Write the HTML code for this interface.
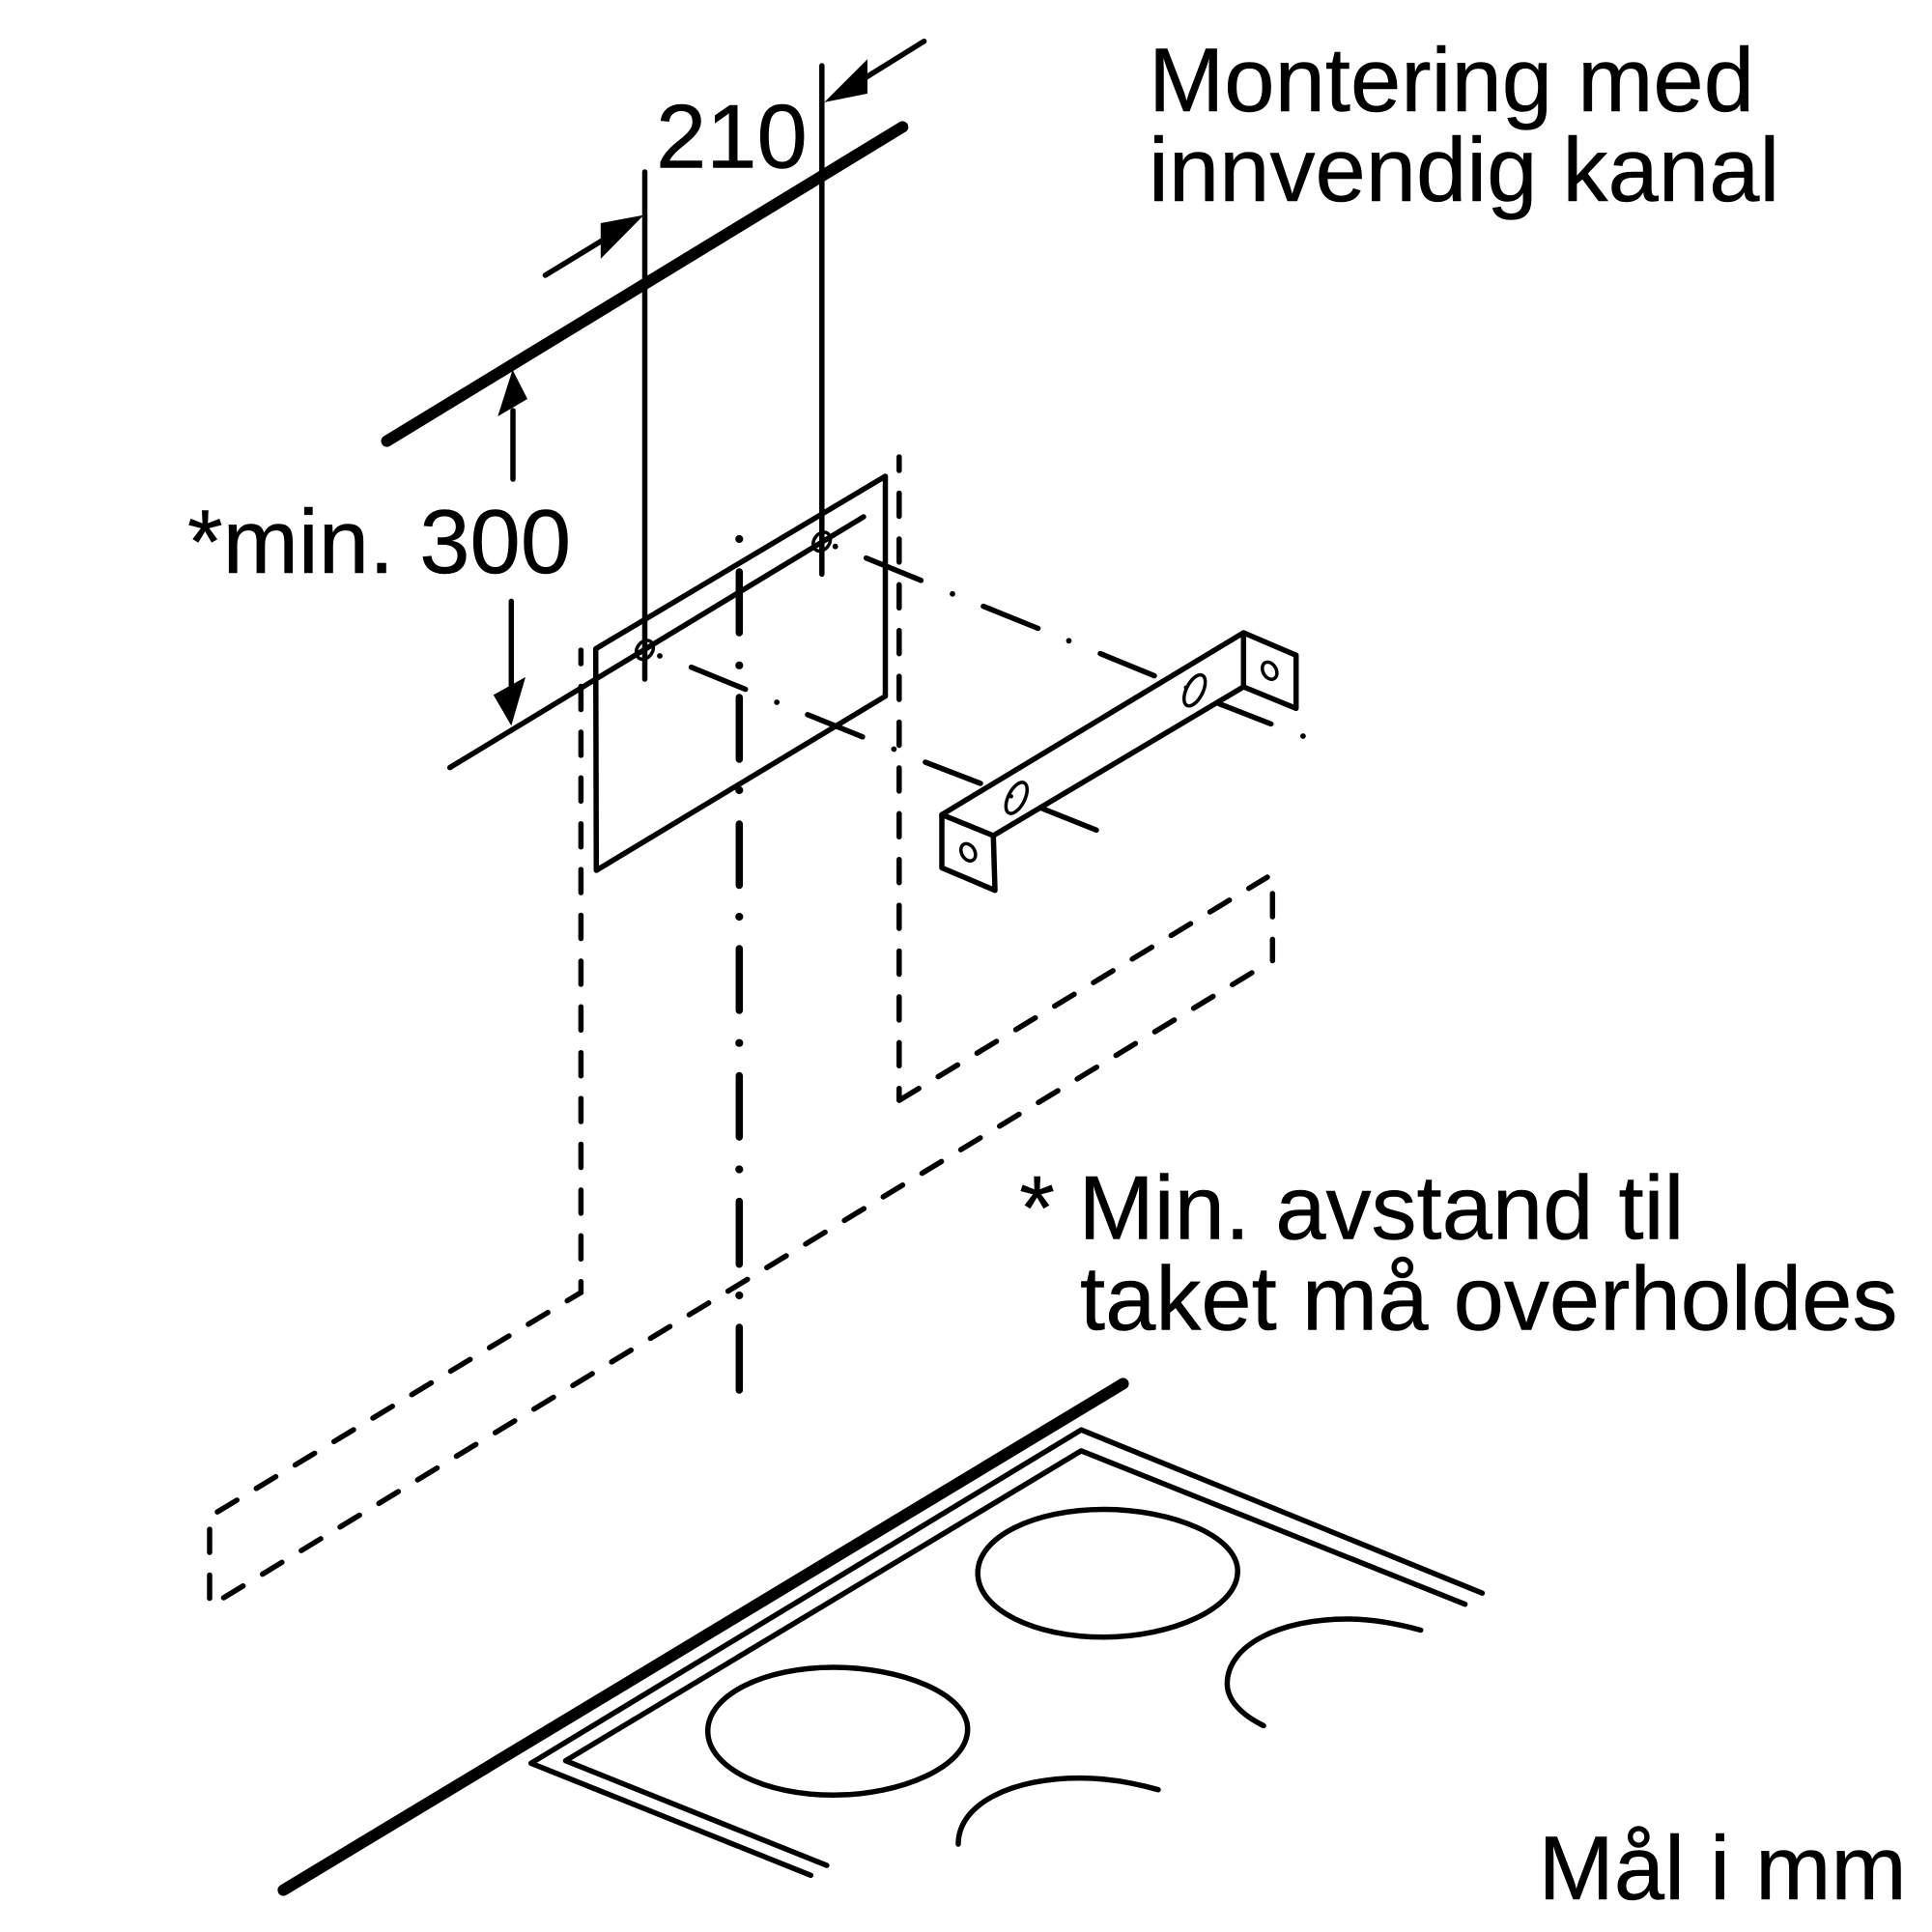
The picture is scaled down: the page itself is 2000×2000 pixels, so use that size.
<!DOCTYPE html>
<html><head><meta charset="utf-8"><style>
html,body{margin:0;padding:0;background:#fff}
svg{display:block}
text{font-family:"Liberation Sans",sans-serif;font-size:94px;fill:#000;stroke:#000;stroke-width:.5}
.t{stroke:#000;stroke-width:5.5;fill:none;stroke-linecap:round;stroke-linejoin:round}
.d{stroke:#000;stroke-width:5.5;fill:none;stroke-linecap:round;stroke-dasharray:23.6 23.4}
.v{stroke:#000;stroke-width:5.5;fill:none;stroke-linecap:round;stroke-dasharray:24 23.4}
.c{stroke:#000;stroke-width:7.5;fill:none;stroke-linecap:round}
.b{stroke:#000;stroke-width:12;fill:none;stroke-linecap:round}
.h{stroke:#000;stroke-width:3.5;fill:none}
</style></head><body>
<svg width="2000" height="2000" viewBox="0 0 2000 2000" xmlns="http://www.w3.org/2000/svg">
<rect width="2000" height="2000" fill="#fff"/>
<!-- thick lines -->
<path class="b" d="M400.5,456.6L934.3,131.4"/>
<path class="b" d="M293.4,1956.6L1162.6,1432.4"/>
<!-- dimension verticals -->
<path class="t" d="M667.5,178V703M850.8,68V594.4"/>
<!-- dimension arrows -->
<path class="t" d="M564.4,285L625,248M956.6,42.7L895,81M531,496V425M529.3,622.4V715"/>
<path d="M666.5,222.6L621.8,231V267.9Z"/>
<path d="M853.3,105.9L898,61.2V96.9Z"/>
<path d="M530.6,382.7L515.3,431L546,413Z"/>
<path d="M529.3,751.3L510.8,719.4L544,700.9Z"/>
<!-- panel and thin line -->
<path class="t" d="M465.6,794.6L894,535"/>
<path class="t" d="M616.7,671.6L916.5,493V720.7L617.3,901Z"/>
<ellipse class="h" cx="667.5" cy="672.7" rx="8" ry="10.5" transform="rotate(35 667.5 672.7)"/>
<ellipse class="h" cx="850.7" cy="560.7" rx="8" ry="10.5" transform="rotate(35 850.7 560.7)"/>
<!-- dashed outline -->
<path class="v" stroke-dashoffset="9.9" d="M601.4,673V1338"/>
<path class="d" stroke-dashoffset="7" d="M601.4,1338L217,1570"/>
<path class="v" d="M217,1654.5V1570"/>
<path class="d" stroke-dasharray="24 23" d="M231.5,1654L1296,1007"/>
<path class="v" d="M1317.3,925V994.5"/>
<path class="d" d="M931,1139L1312,908"/>
<path class="v" stroke-dashoffset="9.9" d="M930.8,473V1139"/>
<!-- centre line -->
<path class="c" d="M765.3,592V655M765.3,722V786M765.3,853V916.5M765.3,982V1046M765.3,1113.5V1177M765.3,1243.6V1308.7M765.3,1374V1439"/>
<g fill="#000">
<circle cx="765.3" cy="558" r="4.1"/><circle cx="765.3" cy="688.8" r="4.1"/><circle cx="765.3" cy="818" r="4.1"/><circle cx="765.3" cy="949" r="4.1"/><circle cx="765.3" cy="1079.7" r="4.1"/><circle cx="765.3" cy="1210.5" r="4.1"/><circle cx="765.3" cy="1341" r="4.1"/>
<circle cx="864.7" cy="565.7" r="2.9"/><circle cx="683" cy="679" r="2.9"/><circle cx="986" cy="614.8" r="2.9"/><circle cx="1106.5" cy="663.3" r="2.9"/><circle cx="1348.9" cy="762" r="2.9"/><circle cx="804.2" cy="727" r="2.9"/><circle cx="925.4" cy="775.5" r="2.9"/>
</g>
<!-- dash-dot thin lines -->
<path class="t" d="M896.7,577.7L953.4,600.8M1017.9,627.6L1074.6,650.5M1139,676.6L1195,699.6M1261.5,728.3L1315.7,749.4"/>
<path class="t" d="M715.6,690.7L771.7,713.6M836,739.8L892.9,762.8M957.9,789L1015,811M1078.3,836.7L1135,859.3"/>
<!-- bracket -->
<path class="t" d="M975,843.3L1287.3,655V711L1341.7,733.3V678.3L1287.3,655"/>
<path class="t" d="M1028.3,865L1287.3,711"/>
<path class="t" d="M975,843.3L1028.3,865L1030,921.7L975,898.3Z"/>
<ellipse class="h" cx="1002.3" cy="882.3" rx="6.8" ry="9.5" transform="rotate(-30 1002.3 882.3)"/>
<ellipse class="h" cx="1314.3" cy="694.3" rx="6.8" ry="9.5" transform="rotate(-30 1314.3 694.3)"/>
<ellipse class="h" cx="1052.3" cy="826" rx="8.5" ry="17.5" transform="rotate(27 1052.3 826)"/>
<ellipse class="h" cx="1236.7" cy="714.7" rx="8.5" ry="17.5" transform="rotate(27 1236.7 714.7)"/>
<circle cx="1046.7" cy="824.3" r="2.2"/><circle cx="1227.7" cy="711.7" r="2.2"/>
<!-- hob -->
<path class="t" d="M839.3,1941.3L549.7,1825.3L1119.3,1480.2L1534.4,1649.2"/>
<path class="t" d="M855.9,1931.1L585.5,1822.7L1119.3,1501.9L1516.6,1660.7"/>
<path class="t" d="M732.7,1792C732.7,1754 792,1726 863.3,1726C932,1726 1001.7,1753 1001.7,1790C1001.7,1829 932,1858.3 863.3,1858.3C792,1858.3 732.7,1830 732.7,1792Z"/>
<path class="t" transform="translate(279.5,-163.5)" d="M732.7,1792C732.7,1754 792,1726 863.3,1726C932,1726 1001.7,1753 1001.7,1790C1001.7,1829 932,1858.3 863.3,1858.3C792,1858.3 732.7,1830 732.7,1792Z"/>
<path class="t" d="M1470.7,1687.5C1445,1680.5 1420,1676 1395,1676C1325,1676 1270.4,1703 1270.4,1743C1270.4,1760 1285,1775 1308,1786.4"/>
<path class="t" d="M992,1909C992,1866 1050,1840.6 1118,1840.6C1145,1840.6 1172,1845 1199,1852.7"/>
<!-- labels -->
<text x="1189" y="114.8">Montering med</text>
<text x="1189" y="207.9">innvendig kanal</text>
<text x="679" y="173.5">210</text>
<text x="194" y="593">*min. 300</text>
<text x="1055.3" y="1282.5">*</text>
<text x="1116.5" y="1282.5">Min. avstand til</text>
<text x="1118" y="1376.3">taket må overholdes</text>
<text x="1592.5" y="1966">Mål i mm</text>
</svg>
</body></html>
